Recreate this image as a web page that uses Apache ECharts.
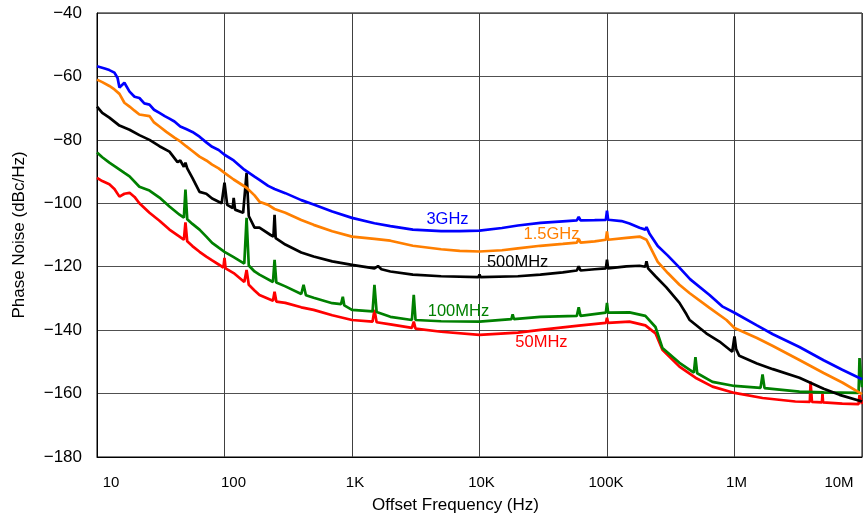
<!DOCTYPE html>
<html>
<head>
    <meta charset="utf-8">
    <title>Phase Noise</title>
    <script src="https://cdn.jsdelivr.net/npm/echarts@6/dist/echarts.min.js"></script>
    <style>
        html, body {margin: 0; padding: 0; background: #fff;}
        #main {width: 863px; height: 516px;}
    </style>
</head>
<body>
<div id="main"></div>
<script type="text/javascript">
    // tick labels of the log frequency axis (10 Hz .. 10 MHz)
    var xTickLabels = ['10', '100', '1K', '10K', '100K', '1M', '10M'];
    var seriesNames = ['3GHz', '1.5GHz', '500MHz', '100MHz', '50MHz'];
    var seriesColors = ['#0000ff', '#ff7f00', '#000000', '#008000', '#ff0000'];

    // [offset frequency Hz, dBc/Hz]
    var noise3G = [
        [10,-56.8],[11.5,-57.5],[12.5,-58],[13.7,-58.8],[14.5,-60.5],[15,-63.5],[16.4,-62],[18,-64.8],
        [19.7,-66.4],[21.5,-66.8],[23.5,-68.5],[25.8,-68.9],[28,-70.5],[30.9,-71.5],[34,-72.5],[37,-73.3],
        [40.5,-74.2],[45,-75.8],[50,-76.6],[56,-77.5],[63.7,-79],[72,-80.8],[80,-82.2],[90,-83.2],
        [100,-84.7],[118,-86.5],[143,-89.4],[172,-91.6],[188,-92.6],[220,-94.5],[247,-95.5],[300,-96.8],
        [400,-99],[500,-100.4],[700,-102.6],[1000,-104.6],[1500,-106.3],[2000,-107.2],[3000,-108.3],
        [5000,-108.8],[7000,-108.8],[10000,-108.6],[15000,-107.8],[20000,-107],[30000,-106.2],[45000,-105.7],
        [58000,-105.4],[60000,-104.3],[62000,-105.4],[80000,-105.3],[98000,-105.2],[100000,-102.3],
        [102000,-105.2],[130000,-105.6],[150000,-106.4],[180000,-107.7],[200000,-108.3],[204000,-107.5],
        [215000,-109.5],[250000,-113.5],[300000,-116.5],[370000,-120.3],[450000,-124],[637000,-128.9],
        [800000,-132.5],[1000000,-134.5],[1500000,-138.5],[2000000,-141.3],[3230000,-145.3],
        [5000000,-149.5],[7000000,-152.5],[10000000,-155.5]
    ];
    var noise1G5 = [
        [10,-61],[11,-61.8],[12.5,-63],[13.7,-64.1],[15,-65.5],[16.4,-68.3],[18,-69.5],[19.7,-70.8],
        [21.5,-72],[25.8,-72.5],[28,-74.5],[30.9,-75.8],[35,-77.5],[40.5,-79.3],[45,-80.5],[50,-82],
        [56,-83.5],[63.7,-85.3],[72,-86.5],[80,-87.8],[90,-89],[100,-90.4],[118,-92.5],[149,-95.1],
        [172,-97.5],[188,-99.5],[220,-100.5],[247,-101.8],[300,-103],[400,-105.3],[500,-106.8],
        [700,-108.8],[1000,-110.5],[1500,-111.2],[2000,-111.8],[3000,-113.4],[5000,-114.5],[7000,-115],
        [10000,-115.2],[15000,-114.8],[20000,-114.2],[30000,-113.4],[45000,-112.8],[58000,-112.4],
        [60000,-111.2],[62000,-112.4],[80000,-112],[98000,-111.5],[100000,-108.9],[102000,-111.5],
        [142000,-110.9],[180000,-110.5],[204000,-111.5],[210000,-112.5],[250000,-118.5],[300000,-122],
        [370000,-125.7],[443000,-128.3],[637000,-133],[865000,-136.8],[1000000,-139.3],[1500000,-142.5],
        [2000000,-145],[3230000,-149.4],[5000000,-153.5],[7000000,-156.5],[10000000,-160.2]
    ];
    var noise500M = [
        [10,-69.5],[11,-71.5],[12.5,-73],[15,-75.5],[18,-76.8],[21.5,-78.5],[25.8,-80],[30.9,-82],
        [37,-83.7],[42.8,-87],[45,-86.5],[48,-88.5],[49.4,-87.2],[51,-89],[56,-92],[63.7,-96.4],[72,-97],
        [80,-98.5],[95,-100],[100,-93.5],[105,-100.5],[116,-101.5],[118,-98.3],[121,-102],[140,-103],
        [149,-90.4],[155,-104],[172,-107.7],[188,-107.7],[230,-110],[242,-110.5],[247,-103.6],[252,-111],
        [300,-113],[400,-115.5],[500,-116.8],[700,-118.3],[1000,-119.4],[1500,-120.5],[1600,-119.8],
        [1700,-120.8],[2000,-121.5],[3000,-122.5],[5000,-123],[9800,-123.3],[10000,-122.5],[10200,-123.3],
        [20000,-123],[30000,-122.5],[45000,-121.8],[58000,-121.2],[60000,-119.9],[62000,-121.2],
        [80000,-120.8],[98000,-120.5],[100000,-117.8],[102000,-120.5],[142000,-119.9],[180000,-119.7],
        [200000,-120],[204000,-118.3],[210000,-120.5],[240000,-123],[292000,-126.5],[370000,-131.4],
        [420000,-135],[443000,-136.7],[600000,-141],[762000,-143.6],[960000,-146.8],[1000000,-142],
        [1030000,-146],[1090000,-148.1],[1500000,-150.5],[2000000,-152.3],[3230000,-155],[5000000,-158.5],
        [6670000,-160.4],[10000000,-162.5]
    ];
    var noise100M = [
        [10,-84],[11,-85.5],[12.5,-87.2],[14,-88.5],[16.4,-90.4],[18,-91.5],[21.5,-94.8],[25.8,-96],
        [30.9,-98.2],[37,-101],[44.4,-103.6],[48,-104.5],[49.4,-95.7],[51,-105],[56,-106.5],[63.7,-108.3],
        [72,-110.5],[80,-112.5],[90,-114],[100,-115.3],[118,-117],[143,-119],[149,-104.6],[155,-119.6],
        [172,-121.5],[188,-122.5],[240,-124.8],[247,-117.8],[255,-125],[300,-126.2],[400,-128.6],
        [417,-125.7],[435,-129],[500,-129.8],[700,-131.5],[820,-131.8],[847,-129.5],[870,-132.2],
        [1000,-133.6],[1450,-134.1],[1500,-125.7],[1560,-134.3],[2000,-135.8],[2950,-136.8],[3050,-128.9],
        [3150,-136.8],[5000,-137.2],[10000,-137.3],[17800,-136.5],[18200,-135],[18600,-136.5],
        [30000,-135.8],[58000,-135.5],[60000,-132.8],[62000,-135.5],[98000,-134.5],[100000,-131.4],
        [102000,-134.5],[150000,-134.4],[200000,-135.5],[240000,-139],[272000,-145.6],[370000,-150.3],
        [480000,-153.4],[494000,-148.5],[510000,-153.6],[672000,-156.3],[1000000,-157.6],[1600000,-158.2],
        [1660000,-154],[1720000,-158.3],[3230000,-159.4],[5000000,-159.6],[9400000,-159.8],
        [9560000,-148.8],[10000000,-158]
    ];
    var noise50M = [
        [10,-92],[11,-93],[12.5,-94],[13.7,-95.5],[15,-97.9],[16.4,-97],[18,-96.7],[19.7,-98],[21.5,-100],
        [25.8,-103],[30.9,-105.5],[37,-108.3],[44.4,-110.5],[48,-111.5],[49.4,-106],[51,-112],[56,-113.5],
        [63.7,-115.3],[72,-116.8],[80,-118],[90,-119.3],[98,-120.3],[100,-117.2],[102,-120.5],[118,-122],
        [143,-124.8],[149,-121],[155,-125.7],[172,-127.5],[188,-128.9],[240,-130.7],[247,-127.9],
        [255,-131],[300,-131.4],[400,-132.8],[500,-133.6],[700,-135.3],[1000,-136.8],[1450,-137.3],
        [1500,-133.6],[1560,-137.5],[2000,-138.2],[2950,-139.3],[3050,-137.3],[3150,-139.5],[5000,-140.5],
        [10000,-141.5],[20000,-140.8],[30000,-139.9],[60000,-138.6],[98000,-137.7],[100000,-136.1],
        [102000,-137.7],[150000,-137.3],[200000,-138.5],[240000,-141],[272000,-146.2],[370000,-151.5],
        [494000,-155],[672000,-157.8],[1000000,-159.8],[1660000,-161.4],[3000000,-162.5],[3900000,-162.6],
        [3950000,-156.2],[4050000,-162.6],[4850000,-162.8],[4900000,-160],[4950000,-162.8],
        [7000000,-163.2],[9400000,-163.3],[9560000,-160.5],[10000000,-163.3]
    ];
    var seriesData = [noise3G, noise1G5, noise500M, noise100M, noise50M];
    // where each curve's name is written, in data coordinates
    var seriesLabelAt = [[5610, -105.2], [36700, -109.9], [19900, -118.8], [6840, -134.2], [30600, -144]];

    var font = 'Liberation Sans, Arial, sans-serif';
    // small per-label shifts, like the original axis
    var xLabelShift = [14, 9, 3, 2, -1, 2, -23];
    var rich = {};
    xLabelShift.forEach(function (s, i) {
        rich['t' + i] = {
            fontSize: 15, fontFamily: font, color: '#000',
            padding: s >= 0 ? [0, 0, 0, 2 * s] : [0, -2 * s, 0, 0]
        };
    });

    var chart = echarts.init(document.getElementById('main'));
    chart.setOption({
        animation: false,
        backgroundColor: '#fff',
        grid: {
            left: 97, top: 13, width: 765, height: 444,
            outerBoundsMode: 'none',
            show: true, borderColor: '#000', borderWidth: 1
        },
        xAxis: {
            type: 'log',
            logBase: 10,
            min: 10,
            max: 10000000,
            name: 'Offset Frequency (Hz)',
            nameLocation: 'middle',
            nameGap: 40,
            nameTextStyle: {fontSize: 17, fontFamily: font, color: '#000', padding: [0, 48, 0, 0]},
            axisLine: {lineStyle: {color: '#000'}},
            axisTick: {show: false},
            minorTick: {show: false},
            splitLine: {show: true, lineStyle: {color: '#404040', width: 1}},
            axisLabel: {
                margin: 18,
                showMinLabel: true,
                showMaxLabel: true,
                formatter: function (v) {
                    var i = Math.round(Math.log10(v)) - 1;
                    return '{t' + i + '|' + xTickLabels[i] + '}';
                },
                rich: rich
            }
        },
        yAxis: {
            type: 'value',
            min: -180,
            max: -40,
            interval: 20,
            name: 'Phase Noise (dBc/Hz)',
            nameLocation: 'middle',
            nameRotate: 90,
            nameGap: 69,
            nameTextStyle: {fontSize: 17, fontFamily: font, color: '#000'},
            axisLine: {show: true, lineStyle: {color: '#000'}},
            axisTick: {show: false},
            splitLine: {lineStyle: {color: '#505050', width: 1}},
            axisLabel: {
                margin: 15,
                fontSize: 17,
                fontFamily: font,
                color: '#000',
                formatter: function (v) { return String(v).replace('-', '\u2212'); }
            }
        },
        series: seriesData.map(function (d, i) {
            return {
                name: seriesNames[i],
                type: 'line',
                data: d,
                symbol: 'none',
                lineStyle: {color: seriesColors[i], width: 2.7},
                itemStyle: {color: seriesColors[i]},
                z: 10 - i,
                markPoint: {
                    symbol: 'circle',
                    symbolSize: 1,
                    itemStyle: {color: 'rgba(0,0,0,0)'},
                    label: {
                        show: true, position: 'inside', formatter: seriesNames[i],
                        color: seriesColors[i], fontSize: 16.5, fontFamily: font
                    },
                    data: [{coord: seriesLabelAt[i]}]
                }
            };
        })
    });
</script>
</body>
</html>
